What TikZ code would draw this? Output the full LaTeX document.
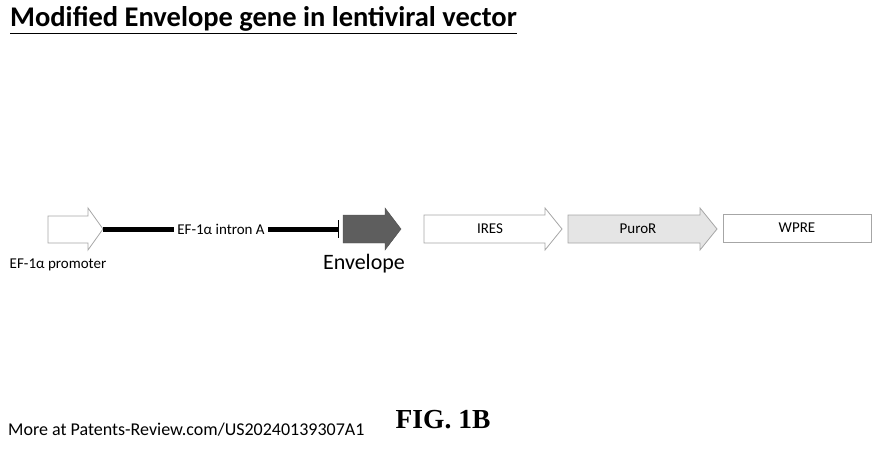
\documentclass[tikz,border=0pt]{standalone}
\usepackage{fontspec}
\setmainfont{Carlito}
\newfontfamily\serifb{Liberation Serif}
\begin{document}
\begin{tikzpicture}[x=1pt,y=-1pt,
  lab/.style={font=\fontsize{15}{15}\selectfont},
  gbox/.style={draw=gray!70,line width=0.8pt}]
\useasboundingbox (0,0) rectangle (880,448);
\node[anchor=west,font=\bfseries\fontsize{28.5}{28.5}\selectfont,inner sep=0pt] (title) at (10,20) {\underline{Modified Envelope gene in lentiviral vector}};
% promoter
\draw[gbox,fill=white] (48,216) -- (88,216) -- (88,208) -- (103,229) -- (88,250) -- (88,243) -- (48,243) -- cycle;
\coordinate (p) at (103,229);
\coordinate (bar) at (338,229);
\node[lab,inner sep=3pt] (intron) at (221,229) {EF-1α intron A};
\draw[line width=5pt] (p) -- (intron.west);
\draw[line width=5pt] (intron.east) -- (bar);
\draw[line width=1pt] (338,220) -- (338,238);
\node[lab] (prom) at (58,265) {EF-1α promoter};
% envelope
\draw[fill=gray!60!black!90,draw=gray!60!black] (343,215) -- (385,215) -- (385,208) -- (401,229) -- (385,250) -- (385,243) -- (343,243) -- cycle;
\node[font=\fontsize{22}{22}\selectfont] (env) at (364,264) {Envelope};
% IRES
\draw[gbox,fill=white] (424,215) -- (545,215) -- (545,208) -- (562,229) -- (545,250) -- (545,243) -- (424,243) -- cycle;
\node[lab] (ires) at (490,229) {IRES};
% PuroR
\draw[gbox,fill=gray!20] (568,215) -- (700,215) -- (700,208) -- (717,229) -- (700,250) -- (700,243) -- (568,243) -- cycle;
\node[lab] (puro) at (638,229) {PuroR};
% WPRE
\draw[gbox,fill=white] (723,214) rectangle (871,242);
\node[lab] (wpre) at (797,228) {WPRE};
\node[anchor=west,font=\fontsize{18}{18}\selectfont,inner sep=0pt] (more) at (8,430) {More at Patents-Review.com/US20240139307A1};
\node[font=\serifb\bfseries\fontsize{27.5}{27.5}\selectfont] (fig) at (443,420) {FIG. 1B};
\end{tikzpicture}
\end{document}
